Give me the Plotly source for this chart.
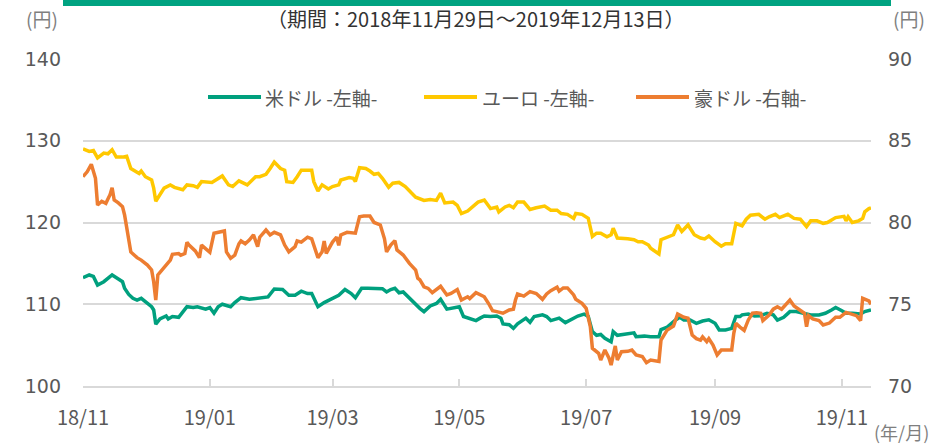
import plotly.graph_objects as go

# ---------------- data ----------------
usd_dates = ["2018-11-29","2018-12-02","2018-12-04","2018-12-05","2018-12-06","2018-12-09","2018-12-11","2018-12-13","2018-12-16","2018-12-18",
"2018-12-19","2018-12-21","2018-12-23","2018-12-25","2018-12-27","2018-12-29","2019-01-01","2019-01-02","2019-01-03","2019-01-05",
"2019-01-08","2019-01-09","2019-01-11","2019-01-14","2019-01-18","2019-01-21","2019-01-23","2019-01-27","2019-01-29","2019-01-31",
"2019-02-02","2019-02-04","2019-02-08","2019-02-10","2019-02-12","2019-02-13","2019-02-17","2019-02-21","2019-02-26","2019-03-01",
"2019-03-05","2019-03-08","2019-03-11","2019-03-14","2019-03-17","2019-03-19","2019-03-22","2019-03-25","2019-03-29","2019-04-01",
"2019-04-04","2019-04-07","2019-04-09","2019-04-12","2019-04-15","2019-04-18","2019-04-22","2019-04-24","2019-04-26","2019-04-28",
"2019-04-30","2019-05-02","2019-05-05","2019-05-08","2019-05-10","2019-05-12","2019-05-15","2019-05-18","2019-05-20","2019-05-23",
"2019-05-25","2019-05-29","2019-05-31","2019-06-03","2019-06-06","2019-06-08","2019-06-10","2019-06-13","2019-06-16","2019-06-18",
"2019-06-19","2019-06-22","2019-06-24","2019-06-26","2019-06-28","2019-06-30","2019-07-02","2019-07-04","2019-07-08","2019-07-10",
"2019-07-12","2019-07-16","2019-07-19","2019-07-22","2019-07-25","2019-07-28","2019-07-30","2019-08-01","2019-08-03","2019-08-05",
"2019-08-07","2019-08-10","2019-08-11","2019-08-13","2019-08-17","2019-08-21","2019-08-22","2019-08-26","2019-08-29","2019-09-02",
"2019-09-03","2019-09-06","2019-09-10","2019-09-12","2019-09-14","2019-09-17","2019-09-20","2019-09-23","2019-09-26","2019-09-29",
"2019-10-01","2019-10-04","2019-10-07","2019-10-09","2019-10-11","2019-10-12","2019-10-15","2019-10-18","2019-10-21","2019-10-24",
"2019-10-27","2019-10-29","2019-11-01","2019-11-04","2019-11-07","2019-11-10","2019-11-14","2019-11-18","2019-11-21","2019-11-24",
"2019-11-26","2019-11-29","2019-12-01","2019-12-04","2019-12-08","2019-12-10","2019-12-12","2019-12-13"]
usd_values = [113.25,113.58,113.4,112.76,112.35,112.76,113.17,113.58,113.09,112.76,
111.95,111.2,110.73,110.52,110.73,110.31,109.7,109.3,107.55,108.2,
108.56,108.2,108.5,108.4,109.7,109.6,109.7,109.4,109.6,108.9,
109.7,110.0,109.7,110.2,110.7,110.8,110.6,110.7,110.9,111.87,
111.8,111.1,111.1,111.6,111.3,111.3,109.7,110.2,110.7,111.1,
111.8,111.3,110.8,111.95,111.95,111.9,111.9,111.5,111.8,111.95,
111.4,111.5,110.7,109.9,109.5,109.1,109.8,110.1,110.6,109.4,
109.5,109.7,108.5,108.2,108.0,108.3,108.56,108.5,108.56,108.3,
107.6,107.5,107.05,107.6,107.9,108.3,107.8,108.5,108.7,108.5,
108.0,108.3,107.75,108.2,108.56,108.8,108.5,106.65,106.2,106.3,
105.83,105.4,106.65,106.2,106.4,106.5,106.03,106.1,106.03,106.03,
106.9,107.2,108.07,108.4,108.07,108.07,107.67,107.95,108.1,107.67,
106.85,106.85,107.05,108.5,108.5,108.7,108.8,108.55,108.6,108.9,
108.7,108.07,108.4,109.1,109.1,108.9,108.7,108.7,108.9,109.3,
109.6,109.2,108.9,108.9,108.8,109.1,109.3,109.3]

eur_dates = ["2018-11-29","2018-12-02","2018-12-04","2018-12-06","2018-12-09","2018-12-11","2018-12-13","2018-12-15","2018-12-18","2018-12-20",
"2018-12-22","2018-12-26","2018-12-27","2018-12-29","2019-01-01","2019-01-02","2019-01-03","2019-01-05","2019-01-07","2019-01-10",
"2019-01-12","2019-01-16","2019-01-18","2019-01-21","2019-01-23","2019-01-25","2019-01-29","2019-01-30","2019-02-04","2019-02-07",
"2019-02-09","2019-02-12","2019-02-16","2019-02-20","2019-02-22","2019-02-25","2019-02-27","2019-03-01","2019-03-04","2019-03-06",
"2019-03-07","2019-03-10","2019-03-12","2019-03-14","2019-03-17","2019-03-19","2019-03-20","2019-03-22","2019-03-24","2019-03-27",
"2019-03-29","2019-04-01","2019-04-02","2019-04-06","2019-04-08","2019-04-09","2019-04-11","2019-04-14","2019-04-16","2019-04-18",
"2019-04-20","2019-04-22","2019-04-25","2019-04-27","2019-04-30","2019-05-03","2019-05-06","2019-05-08","2019-05-12","2019-05-15",
"2019-05-18","2019-05-20","2019-05-22","2019-05-26","2019-05-28","2019-05-30","2019-06-02","2019-06-05","2019-06-07","2019-06-10",
"2019-06-13","2019-06-16","2019-06-17","2019-06-20","2019-06-22","2019-06-24","2019-06-26","2019-06-29","2019-07-02","2019-07-05",
"2019-07-09","2019-07-12","2019-07-15","2019-07-17","2019-07-20","2019-07-23","2019-07-24","2019-07-27","2019-07-30","2019-08-01",
"2019-08-03","2019-08-05","2019-08-08","2019-08-10","2019-08-11","2019-08-13","2019-08-16","2019-08-18","2019-08-21","2019-08-23",
"2019-08-25","2019-08-28","2019-08-29","2019-09-02","2019-09-03","2019-09-06","2019-09-09","2019-09-11","2019-09-13","2019-09-16",
"2019-09-19","2019-09-22","2019-09-24","2019-09-26","2019-09-29","2019-10-02","2019-10-04","2019-10-07","2019-10-09","2019-10-12",
"2019-10-14","2019-10-16","2019-10-20","2019-10-23","2019-10-25","2019-10-28","2019-10-30","2019-11-03","2019-11-06","2019-11-09",
"2019-11-12","2019-11-14","2019-11-17","2019-11-20","2019-11-22","2019-11-26","2019-11-30","2019-12-01","2019-12-02","2019-12-04",
"2019-12-07","2019-12-09","2019-12-10","2019-12-12","2019-12-13"]
eur_values = [129.0,128.7,128.8,127.9,128.5,128.4,128.9,128.0,128.0,128.1,
126.6,126.0,126.3,125.6,125.2,124.2,122.6,123.4,124.2,124.6,
124.3,124.0,124.6,124.5,124.3,125.0,125.0,124.9,125.7,124.6,
124.4,125.1,124.6,125.6,125.6,125.9,126.6,127.4,126.6,126.4,
125.0,124.9,125.6,126.4,126.4,126.4,125.0,123.85,124.6,124.1,
124.4,124.6,125.2,125.5,125.4,125.0,126.7,126.6,126.3,125.9,
126.0,125.4,124.3,124.8,124.9,124.4,123.6,123.1,122.7,122.8,
122.7,123.6,122.4,122.5,122.1,121.1,121.4,122.1,122.5,122.75,
121.7,121.9,121.3,121.9,122.1,121.8,122.5,122.5,121.6,121.8,
122.0,121.5,121.5,121.1,121.0,120.5,121.1,121.0,120.5,118.3,
118.7,118.7,118.25,118.5,119.3,118.1,118.1,118.0,117.9,117.65,
117.65,117.25,116.85,116.15,117.9,118.2,118.5,119.7,118.9,119.7,
118.5,118.1,118.0,118.35,117.65,117.1,117.4,117.4,119.9,119.6,
120.4,120.9,121.0,120.4,120.7,121.0,120.6,121.0,120.5,120.4,
119.5,120.2,120.2,119.9,120.0,120.6,120.75,120.2,120.7,120.0,
120.2,120.5,121.3,121.7,121.8]

aud_dates = ["2018-11-29","2018-12-01","2018-12-03","2018-12-05","2018-12-06","2018-12-08","2018-12-10","2018-12-12","2018-12-13","2018-12-14",
"2018-12-16","2018-12-18","2018-12-19","2018-12-21","2018-12-22","2018-12-25","2018-12-27","2018-12-30","2019-01-01","2019-01-02",
"2019-01-03","2019-01-04","2019-01-06","2019-01-08","2019-01-10","2019-01-11","2019-01-14","2019-01-15","2019-01-17","2019-01-18",
"2019-01-19","2019-01-22","2019-01-24","2019-01-25","2019-01-27","2019-01-29","2019-01-31","2019-02-02","2019-02-05","2019-02-06",
"2019-02-08","2019-02-10","2019-02-12","2019-02-13","2019-02-15","2019-02-17","2019-02-19","2019-02-21","2019-02-22","2019-02-25",
"2019-02-27","2019-03-01","2019-03-04","2019-03-06","2019-03-08","2019-03-11","2019-03-12","2019-03-14","2019-03-17","2019-03-19",
"2019-03-21","2019-03-22","2019-03-24","2019-03-25","2019-03-26","2019-03-29","2019-03-31","2019-04-01","2019-04-02","2019-04-05",
"2019-04-09","2019-04-11","2019-04-13","2019-04-16","2019-04-18","2019-04-21","2019-04-23","2019-04-24","2019-04-26","2019-04-28",
"2019-04-29","2019-05-02","2019-05-05","2019-05-08","2019-05-09","2019-05-10","2019-05-12","2019-05-14","2019-05-16","2019-05-18",
"2019-05-20","2019-05-23","2019-05-25","2019-05-28","2019-05-30","2019-06-02","2019-06-03","2019-06-06","2019-06-10","2019-06-12",
"2019-06-14","2019-06-16","2019-06-19","2019-06-22","2019-06-24","2019-06-25","2019-06-26","2019-06-29","2019-07-02","2019-07-05",
"2019-07-08","2019-07-10","2019-07-12","2019-07-15","2019-07-16","2019-07-18","2019-07-20","2019-07-23","2019-07-24","2019-07-27",
"2019-07-29","2019-07-31","2019-08-01","2019-08-04","2019-08-05","2019-08-07","2019-08-09","2019-08-10","2019-08-12","2019-08-13",
"2019-08-15","2019-08-18","2019-08-20","2019-08-22","2019-08-25","2019-08-27","2019-08-29","2019-09-02","2019-09-03","2019-09-06",
"2019-09-09","2019-09-11","2019-09-14","2019-09-16","2019-09-18","2019-09-20","2019-09-22","2019-09-23","2019-09-25","2019-09-26",
"2019-09-28","2019-09-30","2019-10-02","2019-10-04","2019-10-07","2019-10-08","2019-10-09","2019-10-11","2019-10-13","2019-10-15",
"2019-10-17","2019-10-19","2019-10-21","2019-10-22","2019-10-25","2019-10-27","2019-10-29","2019-10-31","2019-11-02","2019-11-04",
"2019-11-06","2019-11-08","2019-11-11","2019-11-12","2019-11-13","2019-11-15","2019-11-18","2019-11-20","2019-11-23","2019-11-26",
"2019-11-28","2019-12-01","2019-12-04","2019-12-06","2019-12-08","2019-12-09","2019-12-12","2019-12-13"]
aud_values = [82.8,83.1,83.56,82.7,81.07,81.3,81.17,81.7,82.13,81.38,
81.2,80.97,80.46,78.73,78.2,77.85,77.7,77.4,77.1,76.38,
75.26,76.79,77.1,77.4,77.7,78.05,78.1,78.0,78.1,78.79,
78.62,78.26,77.85,78.62,78.42,78.18,79.34,79.4,79.48,78.2,
77.81,78.0,78.7,78.87,78.7,78.93,79.24,78.52,79.1,79.54,
79.24,79.4,79.24,78.62,78.21,78.52,78.87,78.8,79.1,79.0,
78.32,77.85,78.21,78.87,78.11,78.8,79.1,78.6,79.24,79.4,
79.35,80.35,80.4,80.4,80.0,79.85,79.0,78.2,78.62,78.89,
78.32,78.01,77.5,77.09,76.59,76.5,76.07,75.97,75.71,75.9,
76.1,75.57,75.66,75.9,75.26,75.46,75.35,75.71,75.46,75.06,
74.6,74.55,74.45,74.65,74.7,75.26,75.63,75.5,75.77,75.66,
75.3,75.63,75.83,76.04,75.8,76.0,76.0,75.57,75.3,75.06,
74.75,73.63,72.31,72.0,71.59,72.2,71.7,71.28,72.45,71.59,
72.1,72.12,72.2,71.9,71.8,71.43,71.59,71.5,72.81,73.43,
73.67,74.4,74.2,74.15,73.12,72.9,72.81,73.0,72.71,72.9,
72.5,71.9,72.2,72.2,72.2,73.22,73.83,73.6,73.4,74.04,
74.45,74.48,74.45,74.0,74.34,74.7,74.85,74.7,74.95,75.26,
74.9,74.7,74.45,73.63,74.3,74.1,74.0,73.73,73.85,74.2,
74.2,74.5,74.4,74.3,74.0,75.36,75.2,75.0]

series_names = ["米ドル -左軸-", "ユーロ -左軸-", "豪ドル -右軸-"]
series_colors = ["#00A07E", "#FFC800", "#ED7D31"]

tick_dates = ["2018-11-29", "2019-01-29", "2019-03-29", "2019-05-29", "2019-07-29", "2019-09-29", "2019-11-29"]
tick_labels = ["18/11", "19/01", "19/03", "19/05", "19/07", "19/09", "19/11"]
left_ticks = [100, 110, 120, 130, 140]
right_ticks = [70, 75, 80, 85, 90]

title_text = "（期間：2018年11月29日～2019年12月13日）"

# ---------------- figure ----------------
JP = "Noto Sans CJK JP"
NUM = "DejaVu Sans"
GRID = "#D9D9D9"
TXT = "#595959"

fig = go.Figure()
fig.add_trace(go.Scatter(x=usd_dates, y=usd_values, mode="lines", name=series_names[0],
                         line=dict(color=series_colors[0], width=3.5), yaxis="y"))
fig.add_trace(go.Scatter(x=eur_dates, y=eur_values, mode="lines", name=series_names[1],
                         line=dict(color=series_colors[1], width=3.5), yaxis="y"))
fig.add_trace(go.Scatter(x=aud_dates, y=aud_values, mode="lines", name=series_names[2],
                         line=dict(color=series_colors[2], width=3.5), yaxis="y2"))

W, H = 947, 446
L, R, T, B = 83, 76, 59, 60
pw, ph = W - L - R, H - T - B

def px(x):
    return (x - L) / pw

def py(y):
    return (H - B - y) / ph

fig.update_layout(
    width=W, height=H, autosize=False,
    margin=dict(l=L, r=R, t=T, b=B, autoexpand=False),
    paper_bgcolor="white", plot_bgcolor="white",
    showlegend=False,
    font=dict(family=JP, color=TXT),
    xaxis=dict(type="date", range=["2018-11-29", "2019-12-13"],
               tickvals=tick_dates, ticktext=tick_labels,
               tickfont=dict(family=JP, size=20, color=TXT),
               showgrid=False, zeroline=False,
               showline=True, linecolor=GRID, linewidth=2,
               ticks="inside", ticklen=7, tickcolor=GRID, tickwidth=1.5,
               ticklabelstandoff=13),
    yaxis=dict(range=[100, 140], tickvals=left_ticks,
               tickfont=dict(family=NUM, size=19, color=TXT),
               showgrid=True, gridcolor=GRID, gridwidth=1.5,
               zeroline=False, showline=False, ticks="",
               ticklabelstandoff=21),
    yaxis2=dict(range=[70, 90], tickvals=right_ticks, overlaying="y", side="right",
                tickfont=dict(family=NUM, size=19, color=TXT),
                showgrid=False, zeroline=False, showline=False, ticks="",
                ticklabelstandoff=16),
)

# top green bar
fig.add_shape(type="rect", xref="paper", yref="paper",
              x0=px(63), x1=px(891), y0=py(6), y1=py(-2),
              fillcolor="#00A381", line=dict(width=0))

anns = [
    dict(x=px(476), y=py(19), text=title_text, font=dict(family=JP, size=20, color="#333333")),
    dict(x=px(42), y=py(18), text="(円)", font=dict(family=JP, size=19, color="#7F7F7F")),
    dict(x=px(909), y=py(18), text="(円)", font=dict(family=JP, size=19, color="#7F7F7F")),
    dict(x=px(901), y=py(432), text="(年/月)", font=dict(family=JP, size=18, color="#7F7F7F")),
]
for a in anns:
    fig.add_annotation(xref="paper", yref="paper", showarrow=False,
                       xanchor="center", yanchor="middle", **a)

# manual legend
leg_line_x = [(208, 261), (424, 477), (636, 689)]
leg_text_x = [263, 480, 692]
leg_y = 97
for (x0, x1), tx, name, col in zip(leg_line_x, leg_text_x, series_names, series_colors):
    fig.add_shape(type="line", xref="paper", yref="paper",
                  x0=px(x0), x1=px(x1), y0=py(leg_y), y1=py(leg_y),
                  line=dict(color=col, width=4))
    fig.add_annotation(xref="paper", yref="paper", showarrow=False,
                       x=px(tx), y=py(leg_y), xanchor="left", yanchor="middle",
                       text=name, font=dict(family=JP, size=19, color=TXT))

fig.write_html("out.html", config={"displayModeBar": False},
               post_script="document.body.style.margin='0';document.body.style.overflow='hidden';")
